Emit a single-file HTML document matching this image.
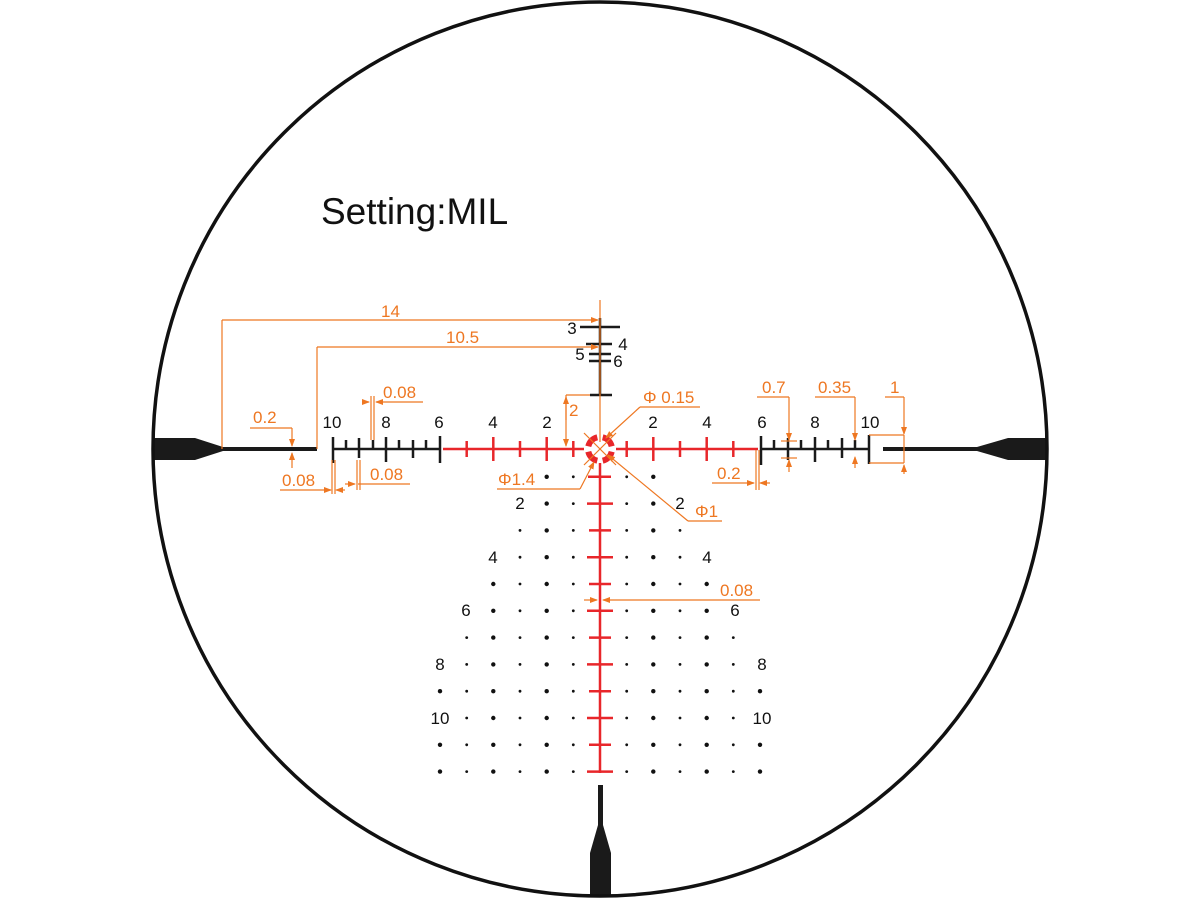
<!DOCTYPE html>
<html><head><meta charset="utf-8"><style>html,body{margin:0;padding:0;background:#fff}svg{display:block}</style></head><body>
<svg width="1200" height="900" viewBox="0 0 1200 900" xmlns="http://www.w3.org/2000/svg" font-family="Liberation Sans, sans-serif">
<defs>
<marker id="a" markerWidth="8" markerHeight="8" refX="7" refY="4" orient="auto" markerUnits="userSpaceOnUse"><path d="M0,1 L8,4 L0,7 Z" fill="#ee7722"/></marker>
<clipPath id="c"><circle cx="600" cy="449" r="447"/></clipPath>
</defs>
<rect width="1200" height="900" fill="#fff"/>
<g clip-path="url(#c)" fill="#1a1a1a">
<path d="M140,438 L195,438 L223,447 L223,451 L195,460 L140,460 Z"/>
<path d="M1060,438 L1008,438 L977,447 L977,451 L1008,460 L1060,460 Z"/>
<path d="M598,785 L603,785 L603,825 L611,853 L611,910 L590,910 L590,853 L598,825 Z"/>
</g>
<circle cx="600" cy="449" r="447" fill="none" stroke="#111" stroke-width="3.5"/>
<text x="321" y="224" font-size="37" fill="#111">Setting:MIL</text>
<g stroke="#1a1a1a" stroke-width="4"><line x1="222" y1="449" x2="317" y2="449"/><line x1="883" y1="449" x2="977" y2="449"/></g>
<g stroke="#1a1a1a" stroke-width="2.5">
<line x1="333" y1="449" x2="440" y2="449"/>
<line x1="333" y1="437" x2="333" y2="463"/><line x1="346" y1="440" x2="346" y2="449"/><line x1="359" y1="438" x2="359" y2="458"/><line x1="373" y1="440" x2="373" y2="449"/><line x1="386" y1="437" x2="386" y2="462"/><line x1="399" y1="440" x2="399" y2="449"/><line x1="413" y1="440" x2="413" y2="458"/><line x1="426" y1="440" x2="426" y2="449"/><line x1="440" y1="436" x2="440" y2="463"/>
<line x1="760" y1="449" x2="868" y2="449"/>
<line x1="761" y1="436" x2="761" y2="465"/><line x1="774" y1="440" x2="774" y2="449"/><line x1="788" y1="438" x2="788" y2="460"/><line x1="801" y1="440" x2="801" y2="449"/><line x1="815" y1="437" x2="815" y2="462"/><line x1="828" y1="440" x2="828" y2="449"/><line x1="842" y1="438" x2="842" y2="458"/><line x1="855" y1="440" x2="855" y2="449"/><line x1="869" y1="435" x2="869" y2="464"/>
<line x1="600" y1="318" x2="600" y2="395"/>
<line x1="580" y1="327" x2="620" y2="327"/><line x1="586" y1="344" x2="612" y2="344"/><line x1="589" y1="354" x2="611" y2="354"/><line x1="589" y1="361" x2="611" y2="361"/><line x1="590" y1="395" x2="612" y2="395"/>
</g>
<g stroke="#e8262a" stroke-width="2.5">
<line x1="443" y1="449" x2="584" y2="449"/><line x1="616" y1="449" x2="758" y2="449"/>
<line x1="600" y1="463" x2="600" y2="773"/>
<line x1="573.3" y1="441" x2="573.3" y2="457"/><line x1="546.7" y1="437" x2="546.7" y2="461"/><line x1="520" y1="441" x2="520" y2="457"/><line x1="493.3" y1="437" x2="493.3" y2="461"/><line x1="466.7" y1="441" x2="466.7" y2="457"/>
<line x1="626.7" y1="441" x2="626.7" y2="457"/><line x1="653.3" y1="437" x2="653.3" y2="461"/><line x1="680" y1="441" x2="680" y2="457"/><line x1="706.7" y1="437" x2="706.7" y2="461"/><line x1="733.3" y1="441" x2="733.3" y2="457"/>
<line x1="588" y1="476.8" x2="611" y2="476.8"/><line x1="587" y1="503.6" x2="613" y2="503.6"/><line x1="589" y1="530.4" x2="611" y2="530.4"/><line x1="587" y1="557.2" x2="613" y2="557.2"/><line x1="589" y1="584" x2="611" y2="584"/><line x1="587" y1="610.8" x2="613" y2="610.8"/><line x1="589" y1="637.6" x2="611" y2="637.6"/><line x1="587" y1="664.4" x2="613" y2="664.4"/><line x1="589" y1="691.2" x2="611" y2="691.2"/><line x1="587" y1="718" x2="613" y2="718"/><line x1="589" y1="744.8" x2="611" y2="744.8"/><line x1="587" y1="771.6" x2="613" y2="771.6"/>
</g>
<g stroke="#e8262a" stroke-width="6" fill="none">
<path d="M611.7,451.7 A12 12 0 0 1 602.7 460.7"/><path d="M597.3,460.7 A12 12 0 0 1 588.3 451.7"/><path d="M588.3,446.3 A12 12 0 0 1 597.3 437.3"/><path d="M602.7,437.3 A12 12 0 0 1 611.7 446.3"/>
</g>
<g font-size="17" fill="#111" text-anchor="middle">
<text x="332" y="428">10</text><text x="386" y="428">8</text><text x="439" y="428">6</text><text x="493" y="428">4</text><text x="547" y="428">2</text>
<text x="653" y="428">2</text><text x="707" y="428">4</text><text x="762" y="428">6</text><text x="815" y="428">8</text><text x="870" y="428">10</text>
<text x="572" y="334">3</text><text x="623" y="350">4</text><text x="580" y="360">5</text><text x="618" y="367">6</text>
<text x="520" y="509">2</text><text x="680" y="509">2</text>
<text x="493" y="563">4</text><text x="707" y="563">4</text>
<text x="466" y="616">6</text><text x="735" y="616">6</text>
<text x="440" y="670">8</text><text x="762" y="670">8</text>
<text x="440" y="724">10</text><text x="762" y="724">10</text>
</g>
<g fill="#111">
<circle cx="546.7" cy="476.8" r="2.2"/><circle cx="573.3" cy="476.8" r="1.4"/><circle cx="626.7" cy="476.8" r="1.4"/><circle cx="653.3" cy="476.8" r="2.2"/>
<circle cx="546.7" cy="503.6" r="2.2"/><circle cx="573.3" cy="503.6" r="1.4"/><circle cx="626.7" cy="503.6" r="1.4"/><circle cx="653.3" cy="503.6" r="2.2"/>
<circle cx="520" cy="530.4" r="1.4"/><circle cx="546.7" cy="530.4" r="2.2"/><circle cx="573.3" cy="530.4" r="1.4"/><circle cx="626.7" cy="530.4" r="1.4"/><circle cx="653.3" cy="530.4" r="2.2"/><circle cx="680" cy="530.4" r="1.4"/>
<circle cx="520" cy="557.2" r="1.4"/><circle cx="546.7" cy="557.2" r="2.2"/><circle cx="573.3" cy="557.2" r="1.4"/><circle cx="626.7" cy="557.2" r="1.4"/><circle cx="653.3" cy="557.2" r="2.2"/><circle cx="680" cy="557.2" r="1.4"/>
<circle cx="493.3" cy="584" r="2.2"/><circle cx="520" cy="584" r="1.4"/><circle cx="546.7" cy="584" r="2.2"/><circle cx="573.3" cy="584" r="1.4"/><circle cx="626.7" cy="584" r="1.4"/><circle cx="653.3" cy="584" r="2.2"/><circle cx="680" cy="584" r="1.4"/><circle cx="706.7" cy="584" r="2.2"/>
<circle cx="493.3" cy="610.8" r="2.2"/><circle cx="520" cy="610.8" r="1.4"/><circle cx="546.7" cy="610.8" r="2.2"/><circle cx="573.3" cy="610.8" r="1.4"/><circle cx="626.7" cy="610.8" r="1.4"/><circle cx="653.3" cy="610.8" r="2.2"/><circle cx="680" cy="610.8" r="1.4"/><circle cx="706.7" cy="610.8" r="2.2"/>
<circle cx="466.7" cy="637.6" r="1.4"/><circle cx="493.3" cy="637.6" r="2.2"/><circle cx="520" cy="637.6" r="1.4"/><circle cx="546.7" cy="637.6" r="2.2"/><circle cx="573.3" cy="637.6" r="1.4"/><circle cx="626.7" cy="637.6" r="1.4"/><circle cx="653.3" cy="637.6" r="2.2"/><circle cx="680" cy="637.6" r="1.4"/><circle cx="706.7" cy="637.6" r="2.2"/><circle cx="733.3" cy="637.6" r="1.4"/>
<circle cx="466.7" cy="664.4" r="1.4"/><circle cx="493.3" cy="664.4" r="2.2"/><circle cx="520" cy="664.4" r="1.4"/><circle cx="546.7" cy="664.4" r="2.2"/><circle cx="573.3" cy="664.4" r="1.4"/><circle cx="626.7" cy="664.4" r="1.4"/><circle cx="653.3" cy="664.4" r="2.2"/><circle cx="680" cy="664.4" r="1.4"/><circle cx="706.7" cy="664.4" r="2.2"/><circle cx="733.3" cy="664.4" r="1.4"/>
<circle cx="440" cy="691.2" r="2.2"/><circle cx="466.7" cy="691.2" r="1.4"/><circle cx="493.3" cy="691.2" r="2.2"/><circle cx="520" cy="691.2" r="1.4"/><circle cx="546.7" cy="691.2" r="2.2"/><circle cx="573.3" cy="691.2" r="1.4"/><circle cx="626.7" cy="691.2" r="1.4"/><circle cx="653.3" cy="691.2" r="2.2"/><circle cx="680" cy="691.2" r="1.4"/><circle cx="706.7" cy="691.2" r="2.2"/><circle cx="733.3" cy="691.2" r="1.4"/><circle cx="760" cy="691.2" r="2.2"/>
<circle cx="466.7" cy="718" r="1.4"/><circle cx="493.3" cy="718" r="2.2"/><circle cx="520" cy="718" r="1.4"/><circle cx="546.7" cy="718" r="2.2"/><circle cx="573.3" cy="718" r="1.4"/><circle cx="626.7" cy="718" r="1.4"/><circle cx="653.3" cy="718" r="2.2"/><circle cx="680" cy="718" r="1.4"/><circle cx="706.7" cy="718" r="2.2"/><circle cx="733.3" cy="718" r="1.4"/>
<circle cx="440" cy="744.8" r="2.2"/><circle cx="466.7" cy="744.8" r="1.4"/><circle cx="493.3" cy="744.8" r="2.2"/><circle cx="520" cy="744.8" r="1.4"/><circle cx="546.7" cy="744.8" r="2.2"/><circle cx="573.3" cy="744.8" r="1.4"/><circle cx="626.7" cy="744.8" r="1.4"/><circle cx="653.3" cy="744.8" r="2.2"/><circle cx="680" cy="744.8" r="1.4"/><circle cx="706.7" cy="744.8" r="2.2"/><circle cx="733.3" cy="744.8" r="1.4"/><circle cx="760" cy="744.8" r="2.2"/>
<circle cx="440" cy="771.6" r="2.2"/><circle cx="466.7" cy="771.6" r="1.4"/><circle cx="493.3" cy="771.6" r="2.2"/><circle cx="520" cy="771.6" r="1.4"/><circle cx="546.7" cy="771.6" r="2.2"/><circle cx="573.3" cy="771.6" r="1.4"/><circle cx="626.7" cy="771.6" r="1.4"/><circle cx="653.3" cy="771.6" r="2.2"/><circle cx="680" cy="771.6" r="1.4"/><circle cx="706.7" cy="771.6" r="2.2"/><circle cx="733.3" cy="771.6" r="1.4"/><circle cx="760" cy="771.6" r="2.2"/>
</g>
<g stroke="#ee7722" stroke-width="1.2" fill="none">
<line x1="600" y1="300" x2="600" y2="442"/>
<line x1="222" y1="449" x2="222" y2="320"/><line x1="222" y1="320" x2="598" y2="320" marker-end="url(#a)"/>
<line x1="317" y1="449" x2="317" y2="347"/><line x1="317" y1="347" x2="598" y2="347" marker-end="url(#a)"/>
<line x1="250" y1="428" x2="292" y2="428"/><line x1="292" y1="428" x2="292" y2="446" marker-end="url(#a)"/><line x1="292" y1="468" x2="292" y2="453" marker-end="url(#a)"/>
<line x1="280" y1="490" x2="331" y2="490" marker-end="url(#a)"/><line x1="345" y1="490" x2="336" y2="490" marker-end="url(#a)"/><line x1="332" y1="460" x2="332" y2="494"/><line x1="335" y1="460" x2="335" y2="494"/>
<line x1="358" y1="484" x2="410" y2="484"/><line x1="357" y1="460" x2="357" y2="490"/><line x1="360" y1="460" x2="360" y2="490"/><line x1="345" y1="484" x2="355" y2="484" marker-end="url(#a)"/>
<line x1="371" y1="396" x2="371" y2="440"/><line x1="374" y1="396" x2="374" y2="440"/><line x1="362" y1="402" x2="369" y2="402" marker-end="url(#a)"/><line x1="423" y1="402" x2="376" y2="402" marker-end="url(#a)"/>
<line x1="590" y1="395" x2="566" y2="395"/><line x1="566" y1="395" x2="566" y2="446" marker-end="url(#a)"/><line x1="566" y1="420" x2="566" y2="397" marker-end="url(#a)"/>
<line x1="700" y1="407" x2="640" y2="407"/><line x1="640" y1="407" x2="606" y2="438" marker-end="url(#a)"/>
<line x1="497" y1="489" x2="580" y2="489"/><line x1="580" y1="489" x2="594" y2="462" marker-end="url(#a)"/>
<line x1="722" y1="521" x2="688" y2="521"/><line x1="688" y1="521" x2="608" y2="455" marker-end="url(#a)"/>
<line x1="584" y1="433" x2="616" y2="465"/><line x1="584" y1="465" x2="616" y2="433"/>
<line x1="712" y1="483" x2="754" y2="483" marker-end="url(#a)"/><line x1="770" y1="483" x2="760" y2="483" marker-end="url(#a)"/><line x1="756" y1="450" x2="756" y2="490"/><line x1="759" y1="450" x2="759" y2="490"/>
<line x1="757" y1="397" x2="789" y2="397"/><line x1="789" y1="397" x2="789" y2="440" marker-end="url(#a)"/><line x1="789" y1="472" x2="789" y2="460" marker-end="url(#a)"/><line x1="781" y1="441" x2="797" y2="441"/><line x1="781" y1="458" x2="797" y2="458"/>
<line x1="815" y1="397" x2="855" y2="397"/><line x1="855" y1="397" x2="855" y2="440" marker-end="url(#a)"/><line x1="855" y1="468" x2="855" y2="457" marker-end="url(#a)"/>
<line x1="885" y1="397" x2="904" y2="397"/><line x1="904" y1="397" x2="904" y2="434" marker-end="url(#a)"/><line x1="904" y1="474" x2="904" y2="465" marker-end="url(#a)"/><line x1="869" y1="435" x2="904" y2="435"/><line x1="869" y1="463" x2="904" y2="463"/><line x1="904" y1="435" x2="904" y2="463"/>
<line x1="584" y1="600" x2="597" y2="600" marker-end="url(#a)"/><line x1="760" y1="600" x2="603" y2="600" marker-end="url(#a)"/>
</g>
<g font-size="17" fill="#ee7722">
<text x="381" y="317">14</text><text x="446" y="343">10.5</text>
<text x="253" y="423">0.2</text><text x="282" y="486">0.08</text><text x="370" y="480">0.08</text><text x="383" y="398">0.08</text>
<text x="569" y="416">2</text><text x="643" y="403">Φ 0.15</text><text x="498" y="485">Φ1.4</text><text x="695" y="517">Φ1</text>
<text x="717" y="479">0.2</text><text x="762" y="393">0.7</text><text x="818" y="393">0.35</text><text x="890" y="393">1</text>
<text x="720" y="596">0.08</text>
</g>
</svg>
</body></html>
